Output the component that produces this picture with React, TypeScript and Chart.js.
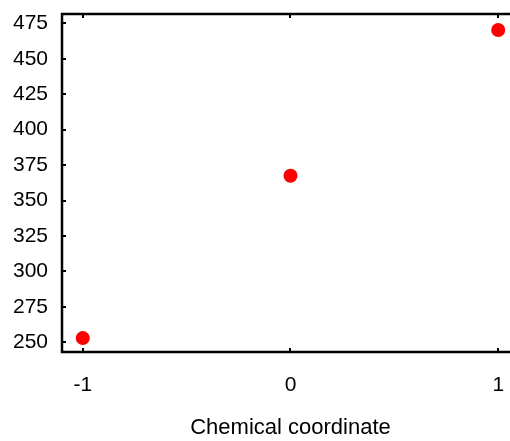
import React, { useEffect, useRef } from "react";
import { Chart, registerables } from "chart.js";

Chart.register(...registerables);

const xValues = [-1, 0, 1];
const yValues = [253, 367.5, 470.3];
const xTicks = [-1, 0, 1];
const yTicks = [250, 275, 300, 325, 350, 375, 400, 425, 450, 475];
const xTitle = "Chemical coordinate";

const FONT = "'Liberation Sans', Arial, sans-serif";

const framePlugin = {
  id: "frame",
  afterDraw(chart: any) {
    const { ctx, chartArea } = chart;
    const xs = chart.scales.x;
    const ys = chart.scales.y;
    ctx.save();
    ctx.strokeStyle = "#000";
    ctx.lineWidth = 2.5;
    ctx.beginPath();
    ctx.moveTo(chart.width + 5, chartArea.top);
    ctx.lineTo(chartArea.left, chartArea.top);
    ctx.lineTo(chartArea.left, chartArea.bottom);
    ctx.lineTo(chart.width + 5, chartArea.bottom);
    ctx.stroke();
    ctx.lineWidth = 2;
    ctx.beginPath();
    for (const v of xTicks) {
      const px = Math.round(xs.getPixelForValue(v));
      ctx.moveTo(px, chartArea.top);
      ctx.lineTo(px, chartArea.top + 4);
      ctx.moveTo(px, chartArea.bottom);
      ctx.lineTo(px, chartArea.bottom - 4);
    }
    for (const v of yTicks) {
      const py = Math.round(ys.getPixelForValue(v));
      ctx.moveTo(chartArea.left, py);
      ctx.lineTo(chartArea.left + 4, py);
    }
    ctx.stroke();
    ctx.fillStyle = "#000";
    ctx.font = `22px ${FONT}`;
    ctx.textAlign = "center";
    ctx.textBaseline = "middle";
    ctx.fillText(xTitle, xs.getPixelForValue(0), 428);
    ctx.restore();
  },
};

export default function App() {
  const ref = useRef<HTMLCanvasElement>(null);
  useEffect(() => {
    document.body.style.margin = "0";
    document.body.style.overflow = "hidden";
    const chart = new Chart(ref.current!, {
      type: "scatter",
      data: {
        datasets: [
          {
            data: xValues.map((x, i) => ({ x, y: yValues[i] })),
            backgroundColor: "#ff0000",
            borderWidth: 0,
            pointRadius: 7,
            pointHoverRadius: 7,
          },
        ],
      },
      options: {
        animation: false,
        responsive: false,
        events: [],
        clip: false,
        layout: { padding: { top: 14, right: 0, left: 0, bottom: 0 } },
        plugins: { legend: { display: false }, tooltip: { enabled: false } },
        scales: {
          x: {
            type: "linear",
            min: -1.1,
            max: 1.023,
            afterBuildTicks: (s: any) => {
              s.ticks = xTicks.map((v) => ({ value: v }));
            },
            afterFit: (s: any) => {
              s.height = 89;
              s.paddingLeft = 0;
              s.paddingRight = 0;
            },
            grid: { display: false, drawTicks: false },
            border: { display: false },
            ticks: {
              color: "#000",
              font: { family: FONT, size: 21 },
              padding: 21,
              maxRotation: 0,
              callback: (v: any) => String(v),
            },
          },
          y: {
            type: "linear",
            min: 243.2,
            max: 481.6,
            afterBuildTicks: (s: any) => {
              s.ticks = yTicks.map((v) => ({ value: v }));
            },
            afterFit: (s: any) => {
              s.width = 62;
              s.paddingTop = 0;
              s.paddingBottom = 0;
            },
            grid: { display: false, drawTicks: false },
            border: { display: false },
            ticks: {
              color: "#000",
              font: { family: FONT, size: 21 },
              padding: 14,
              callback: (v: any) => String(v),
            },
          },
        },
      },
      plugins: [framePlugin],
    });
    return () => chart.destroy();
  }, []);
  return (
    <canvas
      ref={ref}
      width={510}
      height={441}
      style={{ display: "block", width: 510, height: 441 }}
    />
  );
}
